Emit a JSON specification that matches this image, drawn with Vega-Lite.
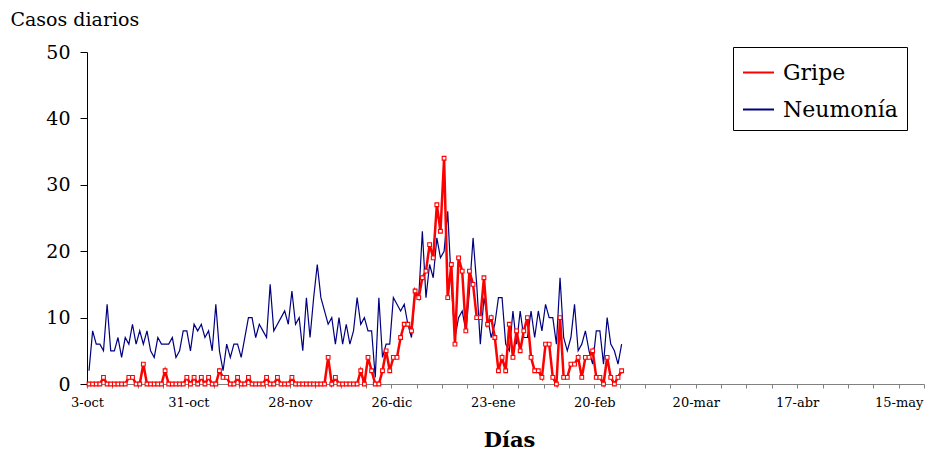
{
  "$schema": "https://vega.github.io/schema/vega-lite/v6.json",
  "width": 837,
  "height": 332,
  "autosize": {"type": "none"},
  "padding": {"left": 87, "top": 52, "right": 5, "bottom": 66},
  "background": "white",
  "config": {"view": {"stroke": null}},
  "data": {"values": [
    {"fecha":"2004-10-03","Gripe":0,"Neumonía":2},
    {"fecha":"2004-10-04","Gripe":0,"Neumonía":8},
    {"fecha":"2004-10-05","Gripe":0,"Neumonía":6},
    {"fecha":"2004-10-06","Gripe":0,"Neumonía":6},
    {"fecha":"2004-10-07","Gripe":1,"Neumonía":5},
    {"fecha":"2004-10-08","Gripe":0,"Neumonía":12},
    {"fecha":"2004-10-09","Gripe":0,"Neumonía":5},
    {"fecha":"2004-10-10","Gripe":0,"Neumonía":5},
    {"fecha":"2004-10-11","Gripe":0,"Neumonía":7},
    {"fecha":"2004-10-12","Gripe":0,"Neumonía":4},
    {"fecha":"2004-10-13","Gripe":0,"Neumonía":7},
    {"fecha":"2004-10-14","Gripe":1,"Neumonía":6},
    {"fecha":"2004-10-15","Gripe":1,"Neumonía":9},
    {"fecha":"2004-10-16","Gripe":0,"Neumonía":6},
    {"fecha":"2004-10-17","Gripe":0,"Neumonía":8},
    {"fecha":"2004-10-18","Gripe":3,"Neumonía":6},
    {"fecha":"2004-10-19","Gripe":0,"Neumonía":8},
    {"fecha":"2004-10-20","Gripe":0,"Neumonía":5},
    {"fecha":"2004-10-21","Gripe":0,"Neumonía":4},
    {"fecha":"2004-10-22","Gripe":0,"Neumonía":7},
    {"fecha":"2004-10-23","Gripe":0,"Neumonía":6},
    {"fecha":"2004-10-24","Gripe":2,"Neumonía":6},
    {"fecha":"2004-10-25","Gripe":0,"Neumonía":6},
    {"fecha":"2004-10-26","Gripe":0,"Neumonía":7},
    {"fecha":"2004-10-27","Gripe":0,"Neumonía":4},
    {"fecha":"2004-10-28","Gripe":0,"Neumonía":5},
    {"fecha":"2004-10-29","Gripe":0,"Neumonía":8},
    {"fecha":"2004-10-30","Gripe":1,"Neumonía":8},
    {"fecha":"2004-10-31","Gripe":0,"Neumonía":5},
    {"fecha":"2004-11-01","Gripe":1,"Neumonía":9},
    {"fecha":"2004-11-02","Gripe":0,"Neumonía":8},
    {"fecha":"2004-11-03","Gripe":1,"Neumonía":9},
    {"fecha":"2004-11-04","Gripe":0,"Neumonía":7},
    {"fecha":"2004-11-05","Gripe":1,"Neumonía":8},
    {"fecha":"2004-11-06","Gripe":0,"Neumonía":5},
    {"fecha":"2004-11-07","Gripe":0,"Neumonía":12},
    {"fecha":"2004-11-08","Gripe":2,"Neumonía":5},
    {"fecha":"2004-11-09","Gripe":1,"Neumonía":2},
    {"fecha":"2004-11-10","Gripe":1,"Neumonía":6},
    {"fecha":"2004-11-11","Gripe":0,"Neumonía":4},
    {"fecha":"2004-11-12","Gripe":0,"Neumonía":6},
    {"fecha":"2004-11-13","Gripe":1,"Neumonía":6},
    {"fecha":"2004-11-14","Gripe":0,"Neumonía":4},
    {"fecha":"2004-11-15","Gripe":0,"Neumonía":7},
    {"fecha":"2004-11-16","Gripe":1,"Neumonía":10},
    {"fecha":"2004-11-17","Gripe":0,"Neumonía":10},
    {"fecha":"2004-11-18","Gripe":0,"Neumonía":7},
    {"fecha":"2004-11-19","Gripe":0,"Neumonía":9},
    {"fecha":"2004-11-20","Gripe":0,"Neumonía":8},
    {"fecha":"2004-11-21","Gripe":1,"Neumonía":7},
    {"fecha":"2004-11-22","Gripe":0,"Neumonía":15},
    {"fecha":"2004-11-23","Gripe":0,"Neumonía":8},
    {"fecha":"2004-11-24","Gripe":1,"Neumonía":9},
    {"fecha":"2004-11-25","Gripe":0,"Neumonía":10},
    {"fecha":"2004-11-26","Gripe":0,"Neumonía":11},
    {"fecha":"2004-11-27","Gripe":0,"Neumonía":9},
    {"fecha":"2004-11-28","Gripe":1,"Neumonía":14},
    {"fecha":"2004-11-29","Gripe":0,"Neumonía":9},
    {"fecha":"2004-11-30","Gripe":0,"Neumonía":10},
    {"fecha":"2004-12-01","Gripe":0,"Neumonía":5},
    {"fecha":"2004-12-02","Gripe":0,"Neumonía":13},
    {"fecha":"2004-12-03","Gripe":0,"Neumonía":7},
    {"fecha":"2004-12-04","Gripe":0,"Neumonía":13},
    {"fecha":"2004-12-05","Gripe":0,"Neumonía":18},
    {"fecha":"2004-12-06","Gripe":0,"Neumonía":13},
    {"fecha":"2004-12-07","Gripe":0,"Neumonía":11},
    {"fecha":"2004-12-08","Gripe":4,"Neumonía":9},
    {"fecha":"2004-12-09","Gripe":0,"Neumonía":10},
    {"fecha":"2004-12-10","Gripe":1,"Neumonía":6},
    {"fecha":"2004-12-11","Gripe":0,"Neumonía":10},
    {"fecha":"2004-12-12","Gripe":0,"Neumonía":6},
    {"fecha":"2004-12-13","Gripe":0,"Neumonía":9},
    {"fecha":"2004-12-14","Gripe":0,"Neumonía":6},
    {"fecha":"2004-12-15","Gripe":0,"Neumonía":8},
    {"fecha":"2004-12-16","Gripe":0,"Neumonía":13},
    {"fecha":"2004-12-17","Gripe":2,"Neumonía":9},
    {"fecha":"2004-12-18","Gripe":0,"Neumonía":10},
    {"fecha":"2004-12-19","Gripe":4,"Neumonía":8},
    {"fecha":"2004-12-20","Gripe":2,"Neumonía":8},
    {"fecha":"2004-12-21","Gripe":0,"Neumonía":1},
    {"fecha":"2004-12-22","Gripe":0,"Neumonía":13},
    {"fecha":"2004-12-23","Gripe":2,"Neumonía":4},
    {"fecha":"2004-12-24","Gripe":5,"Neumonía":6},
    {"fecha":"2004-12-25","Gripe":2,"Neumonía":6},
    {"fecha":"2004-12-26","Gripe":4,"Neumonía":13},
    {"fecha":"2004-12-27","Gripe":4,"Neumonía":12},
    {"fecha":"2004-12-28","Gripe":7,"Neumonía":11},
    {"fecha":"2004-12-29","Gripe":9,"Neumonía":12},
    {"fecha":"2004-12-30","Gripe":9,"Neumonía":9},
    {"fecha":"2004-12-31","Gripe":8,"Neumonía":7},
    {"fecha":"2005-01-01","Gripe":14,"Neumonía":14},
    {"fecha":"2005-01-02","Gripe":13,"Neumonía":13},
    {"fecha":"2005-01-03","Gripe":16,"Neumonía":23},
    {"fecha":"2005-01-04","Gripe":17,"Neumonía":13},
    {"fecha":"2005-01-05","Gripe":21,"Neumonía":18},
    {"fecha":"2005-01-06","Gripe":19,"Neumonía":16},
    {"fecha":"2005-01-07","Gripe":27,"Neumonía":22},
    {"fecha":"2005-01-08","Gripe":23,"Neumonía":19},
    {"fecha":"2005-01-09","Gripe":34,"Neumonía":20},
    {"fecha":"2005-01-10","Gripe":13,"Neumonía":26},
    {"fecha":"2005-01-11","Gripe":18,"Neumonía":15},
    {"fecha":"2005-01-12","Gripe":6,"Neumonía":7},
    {"fecha":"2005-01-13","Gripe":19,"Neumonía":10},
    {"fecha":"2005-01-14","Gripe":17,"Neumonía":11},
    {"fecha":"2005-01-15","Gripe":8,"Neumonía":8},
    {"fecha":"2005-01-16","Gripe":17,"Neumonía":14},
    {"fecha":"2005-01-17","Gripe":15,"Neumonía":22},
    {"fecha":"2005-01-18","Gripe":10,"Neumonía":15},
    {"fecha":"2005-01-19","Gripe":10,"Neumonía":6},
    {"fecha":"2005-01-20","Gripe":16,"Neumonía":13},
    {"fecha":"2005-01-21","Gripe":9,"Neumonía":10},
    {"fecha":"2005-01-22","Gripe":10,"Neumonía":7},
    {"fecha":"2005-01-23","Gripe":7,"Neumonía":9},
    {"fecha":"2005-01-24","Gripe":2,"Neumonía":13},
    {"fecha":"2005-01-25","Gripe":4,"Neumonía":13},
    {"fecha":"2005-01-26","Gripe":2,"Neumonía":6},
    {"fecha":"2005-01-27","Gripe":9,"Neumonía":5},
    {"fecha":"2005-01-28","Gripe":4,"Neumonía":11},
    {"fecha":"2005-01-29","Gripe":8,"Neumonía":6},
    {"fecha":"2005-01-30","Gripe":5,"Neumonía":11},
    {"fecha":"2005-01-31","Gripe":8,"Neumonía":7},
    {"fecha":"2005-02-01","Gripe":10,"Neumonía":7},
    {"fecha":"2005-02-02","Gripe":4,"Neumonía":11},
    {"fecha":"2005-02-03","Gripe":2,"Neumonía":7},
    {"fecha":"2005-02-04","Gripe":2,"Neumonía":11},
    {"fecha":"2005-02-05","Gripe":1,"Neumonía":8},
    {"fecha":"2005-02-06","Gripe":6,"Neumonía":12},
    {"fecha":"2005-02-07","Gripe":6,"Neumonía":10},
    {"fecha":"2005-02-08","Gripe":1,"Neumonía":10},
    {"fecha":"2005-02-09","Gripe":0,"Neumonía":6},
    {"fecha":"2005-02-10","Gripe":10,"Neumonía":16},
    {"fecha":"2005-02-11","Gripe":1,"Neumonía":7},
    {"fecha":"2005-02-12","Gripe":1,"Neumonía":5},
    {"fecha":"2005-02-13","Gripe":3,"Neumonía":7},
    {"fecha":"2005-02-14","Gripe":3,"Neumonía":12},
    {"fecha":"2005-02-15","Gripe":4,"Neumonía":5},
    {"fecha":"2005-02-16","Gripe":1,"Neumonía":6},
    {"fecha":"2005-02-17","Gripe":4,"Neumonía":8},
    {"fecha":"2005-02-18","Gripe":4,"Neumonía":5},
    {"fecha":"2005-02-19","Gripe":5,"Neumonía":3},
    {"fecha":"2005-02-20","Gripe":1,"Neumonía":8},
    {"fecha":"2005-02-21","Gripe":1,"Neumonía":8},
    {"fecha":"2005-02-22","Gripe":0,"Neumonía":3},
    {"fecha":"2005-02-23","Gripe":4,"Neumonía":10},
    {"fecha":"2005-02-24","Gripe":1,"Neumonía":6},
    {"fecha":"2005-02-25","Gripe":0,"Neumonía":5},
    {"fecha":"2005-02-26","Gripe":1,"Neumonía":3},
    {"fecha":"2005-02-27","Gripe":2,"Neumonía":6}
  ]},
  "transform": [{"fold": ["Gripe", "Neumonía"], "as": ["serie", "casos"]}],
  "encoding": {
    "x": {
      "field": "fecha",
      "type": "temporal",
      "scale": {
        "type": "utc",
        "domain": [
          {"year": 2004, "month": 10, "date": 3, "utc": true},
          {"year": 2005, "month": 5, "date": 22, "utc": true}
        ]
      },
      "axis": {
        "title": "Días",
        "titleFont": "DejaVu Serif",
        "titleFontSize": 21,
        "titleFontWeight": "bold",
        "titleColor": "black",
        "titleX": 422,
        "titleY": 62,
        "titleAlign": "center",
        "titleBaseline": "alphabetic",
        "tickCount": {"interval": "week", "step": 1},
        "labelExpr": "(round((datum.value - utc(2004,9,3)) / 86400000) % 28 == 0) ? (utcdate(datum.value) + '-' + ['ene','feb','mar','abr','may','jun','jul','ago','sep','oct','nov','dic'][utcmonth(datum.value)]) : ''",
        "labelFont": "DejaVu Serif",
        "labelFontSize": 13,
        "labelColor": "black",
        "labelOverlap": false,
        "labelFlush": false,
        "labelPadding": 8,
        "tickSize": 4,
        "tickColor": "#808080",
        "domainColor": "#808080",
        "grid": false
      }
    },
    "y": {
      "field": "casos",
      "type": "quantitative",
      "scale": {"domain": [0, 50], "nice": false},
      "axis": {
        "title": "Casos diarios",
        "titleAngle": 0,
        "titleAlign": "left",
        "titleBaseline": "alphabetic",
        "titleX": -77,
        "titleY": -27,
        "titleFont": "DejaVu Serif",
        "titleFontSize": 19,
        "titleFontWeight": "normal",
        "titleColor": "black",
        "values": [0, 10, 20, 30, 40, 50],
        "labelFont": "DejaVu Serif",
        "labelFontSize": 19,
        "labelColor": "black",
        "labelPadding": 10,
        "tickSize": 7,
        "tickColor": "black",
        "domainColor": "black",
        "grid": false
      }
    }
  },
  "layer": [
    {
      "transform": [{"filter": "datum.serie == 'Neumonía'"}],
      "mark": {"type": "line", "strokeWidth": 1.2, "xOffset": 2},
      "encoding": {
        "color": {
          "field": "serie",
          "type": "nominal",
          "scale": {"domain": ["Gripe", "Neumonía"], "range": ["#FF0000", "#000080"]},
          "legend": {
            "orient": "none",
            "legendX": 646,
            "legendY": -5,
            "title": null,
            "symbolType": "stroke",
            "symbolSize": 961,
            "symbolStrokeWidth": 2,
            "labelFont": "DejaVu Serif",
            "labelFontSize": 22,
            "labelColor": "black",
            "labelOffset": 8,
            "strokeColor": "black",
            "fillColor": "white",
            "padding": 9,
            "rowPadding": 9
          }
        }
      }
    },
    {
      "transform": [{"filter": "datum.serie == 'Gripe'"}],
      "mark": {"type": "line", "strokeWidth": 2.5, "xOffset": 2},
      "encoding": {
        "color": {"field": "serie", "type": "nominal"}
      }
    },
    {
      "transform": [{"filter": "datum.serie == 'Gripe'"}],
      "mark": {"type": "point", "shape": "square", "size": 14, "filled": false, "fill": "white", "fillOpacity": 1, "stroke": "#FF0000", "strokeWidth": 1.1, "opacity": 1, "xOffset": 2},
      "encoding": {}
    }
  ]
}
